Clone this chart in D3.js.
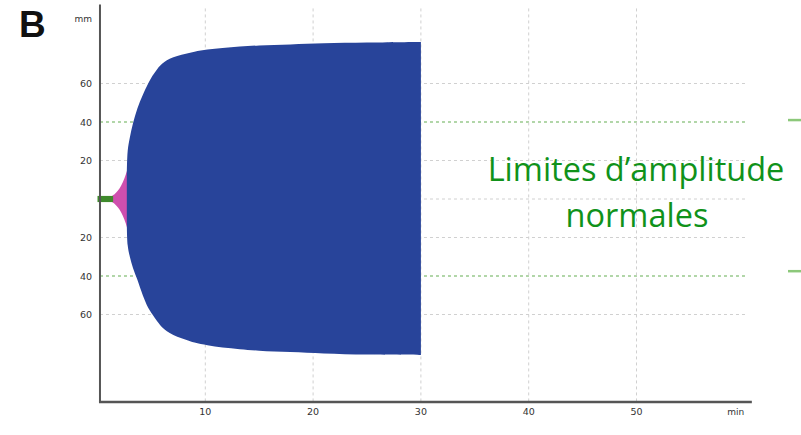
<!DOCTYPE html>
<html><head><meta charset="utf-8">
<script src="https://cdn.jsdelivr.net/npm/d3@7"></script>
<style>body{margin:0;background:#fff}svg{display:block}</style>
</head><body><div id="chart"></div>
<script>
// ---- data ----
const xTicks = [10, 20, 30, 40, 50];
const yTicksUpper = [60, 40, 20];
const yTicksLower = [-20, -40, -60];
const grayGrid = [60, 20, 0, -20, -60];
const greenGrid = [40, -40];
// baseline (green) segment
const baseTime = [0, 1.45];
const baseAmp = [1.6, 1.6];
// pink onset
const pinkTime = [1.25, 1.6, 1.9, 2.2, 2.5, 2.75, 2.9];
const pinkAmp = [1.2, 2.6, 4.4, 7, 10.8, 15, 18];
// blue envelope
const blueTime = [2.72, 2.8, 3.0, 3.3, 3.7, 4.2, 4.7, 5.1, 5.5, 5.8, 6.2, 6.7, 7.4, 8.2, 9.0, 10.2, 11.6, 13.2, 15.0, 17.9, 21.0, 25.0, 30.0];
const blueUpper = [12, 25, 32, 39.5, 47, 54, 60, 64, 67.2, 69.2, 71.2, 72.9, 74.3, 75.5, 76.5, 77.6, 78.5, 79.2, 79.8, 80.3, 80.9, 81.3, 81.6];
const blueLower = [12, 24, 30, 36, 42, 50, 56.5, 60, 63.3, 65.4, 67.6, 69.6, 71.5, 73.1, 74.6, 76, 77.2, 78, 78.8, 79.5, 80.2, 80.8, 81];

const W = 801, H = 435;
const svg = d3.select("#chart").append("svg").attr("width", W).attr("height", H);

const x = d3.scaleLinear().domain([0, 60]).range([97.5, 744.3]);
const y = d3.scaleLinear().domain([-60, 60]).range([314.5, 83.5]);
const axisX0 = x(0.23), axisY0 = y(-105.5), axisXEnd = x(60.7), axisYTop = y(101);

// gridlines
const g = svg.append("g");
g.selectAll(".hg").data(grayGrid).join("line")
  .attr("x1", axisX0).attr("x2", x(60.3))
  .attr("y1", d => y(d)).attr("y2", d => y(d))
  .attr("stroke", "#d0d0d0").attr("stroke-width", 1).attr("stroke-dasharray", "3,3");
g.selectAll(".gg").data(greenGrid).join("line")
  .attr("x1", axisX0).attr("x2", x(60.3))
  .attr("y1", d => y(d)).attr("y2", d => y(d))
  .attr("stroke", "#98c98c").attr("stroke-width", 1.5).attr("stroke-dasharray", "3,3");
g.selectAll(".vg").data(xTicks).join("line")
  .attr("x1", d => x(d)).attr("x2", d => x(d))
  .attr("y1", y(99)).attr("y2", axisY0)
  .attr("stroke", "#d0d0d0").attr("stroke-width", 1).attr("stroke-dasharray", "3,3");

// envelope areas
const area = (t, up, lo) => d3.area().x((d, i) => x(t[i])).y0((d, i) => y(-lo[i])).y1((d, i) => y(up[i])).curve(d3.curveCatmullRom.alpha(0.5));
svg.append("path").datum(pinkTime).attr("d", area(pinkTime, pinkAmp, pinkAmp)).attr("fill", "#cf4fae");
svg.append("path").datum(baseTime).attr("d", d3.area().x((d, i) => x(baseTime[i])).y0((d, i) => y(-baseAmp[i])).y1((d, i) => y(baseAmp[i]))).attr("fill", "#3f8a2c");
svg.append("path").datum(blueTime).attr("d", area(blueTime, blueUpper, blueLower)).attr("fill", "#28449a");

// axes
svg.append("line").attr("x1", axisX0).attr("x2", axisX0).attr("y1", axisYTop).attr("y2", axisY0)
  .attr("stroke", "#555").attr("stroke-width", 2);
svg.append("line").attr("x1", axisX0 - 1).attr("x2", axisXEnd).attr("y1", axisY0).attr("y2", axisY0)
  .attr("stroke", "#555").attr("stroke-width", 2.5);

const tickFont = "'DejaVu Sans', sans-serif";
svg.selectAll(".xl").data(xTicks).join("text")
  .attr("x", d => x(d)).attr("y", axisY0 + 13).attr("text-anchor", "middle")
  .attr("font-family", tickFont).attr("font-size", 9.5).attr("fill", "#333").text(d => d);
svg.append("text").attr("x", x(59.2)).attr("y", axisY0 + 13).attr("text-anchor", "middle")
  .attr("font-family", tickFont).attr("font-size", 9).attr("fill", "#333").text("min");
svg.selectAll(".yl").data(yTicksUpper.concat(yTicksLower)).join("text")
  .attr("x", 92).attr("y", d => y(d) + 3.5).attr("text-anchor", "end")
  .attr("font-family", tickFont).attr("font-size", 9.5).attr("fill", "#333").text(d => Math.abs(d));
svg.append("text").attr("x", 92).attr("y", 22).attr("text-anchor", "end")
  .attr("font-family", tickFont).attr("font-size", 9).attr("fill", "#333").text("mm");

// panel letter
svg.append("text").attr("x", 19).attr("y", 37).attr("font-family", "'Liberation Sans', Arial, sans-serif")
  .attr("font-weight", "bold").attr("font-size", 37).attr("fill", "#111").text("B");

// annotation
const ann = svg.append("text").attr("text-anchor", "middle").attr("font-family", "'Open Sans', sans-serif")
  .attr("font-size", 32.5).attr("fill", "#10921a");
ann.append("tspan").attr("x", 636).attr("y", 181).text("Limites d\u2019amplitude");
ann.append("tspan").attr("x", 637).attr("y", 227).text("normales");

// right markers
svg.selectAll(".mk").data([41, -37.5]).join("line")
  .attr("x1", 788).attr("x2", W).attr("y1", d => y(d)).attr("y2", d => y(d))
  .attr("stroke", "#8cc87a").attr("stroke-width", 2.5);
</script></body></html>
